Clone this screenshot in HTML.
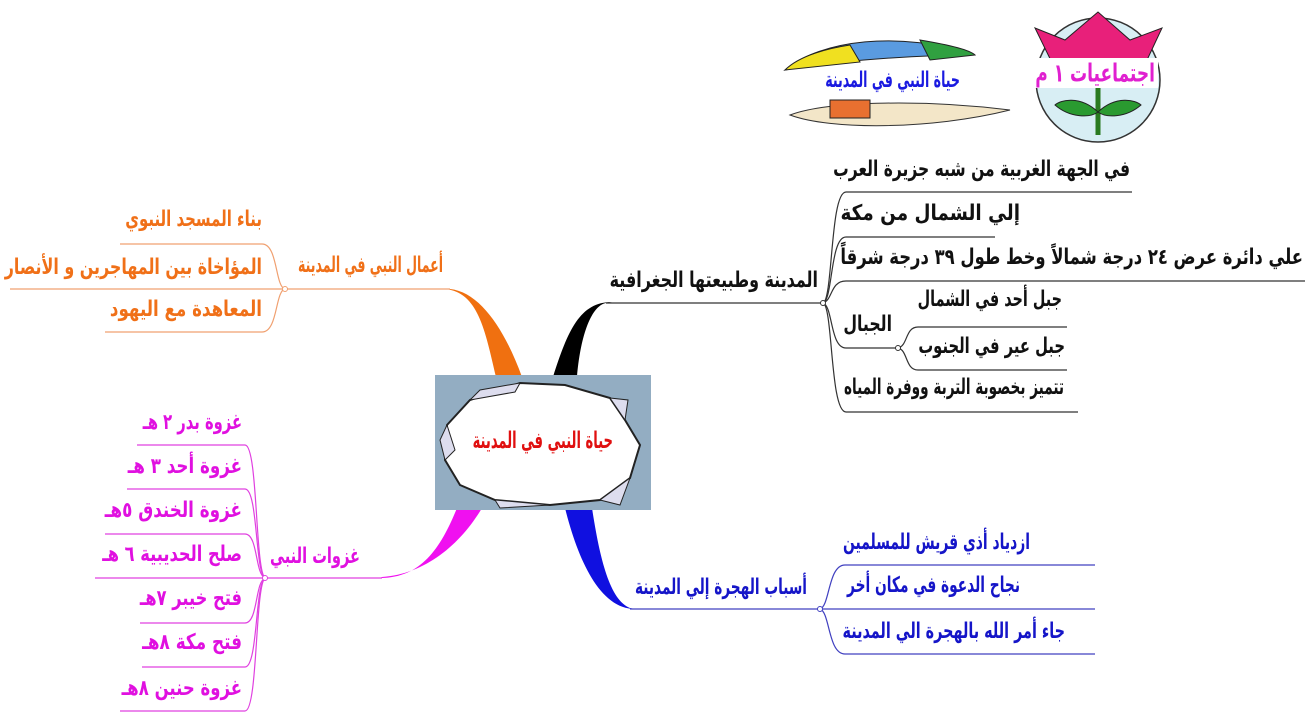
<!DOCTYPE html>
<html><head><meta charset="utf-8"><style>
body{margin:0;background:#fff;width:1313px;height:721px;overflow:hidden;position:relative;font-family:"DejaVu Sans","Liberation Sans",sans-serif;}
.t{position:absolute;direction:rtl;white-space:nowrap;font-weight:bold;font-size:18px;line-height:22px;transform-origin:right center;transform:translateX(-100%);}
.k{color:#111}.o{color:#f07018}.m{color:#e010e0}.b{color:#1515c8}
svg{position:absolute;left:0;top:0}
</style></head><body>
<svg width="1313" height="721" viewBox="0 0 1313 721">
<path d="M553,377 C568,330 580,302 612,302 L606,303 C590,306 580,340 577,377 Z" fill="#000"/>
<path d="M496,377 C485,330 478,292 445,289 L450,289 C480,292 505,330 522,377 Z" fill="#f07010"/>
<path d="M457,508 C440,550 420,578 380,578 L382,577 C425,574 460,545 482,508 Z" fill="#f010f0"/>
<path d="M565,508 C578,560 600,609 635,609 L630,608 C610,600 600,560 592,508 Z" fill="#1010e0"/>
<g fill="none" stroke="#333" stroke-width="1.2">
<path d="M606,303 L823,303"/>
<path d="M823,303 C833,300 830,192 846,192 L1132,192"/>
<path d="M823,303 C833,300 830,237 846,237 L995,237"/>
<path d="M823,303 C833,300 830,281 846,281 L1305,281"/>
<path d="M823,303 C833,306 830,348 846,348 L898,348"/>
<path d="M823,303 C833,306 830,412 846,412 L1078,412"/>
<path d="M898,348 C908,346 905,327 918,327 L1067,327"/>
<path d="M898,348 C908,350 905,370 918,370 L1067,370"/>
</g>
<circle cx="823" cy="303" r="2.5" fill="#fff" stroke="#333"/>
<circle cx="898" cy="348" r="2.5" fill="#fff" stroke="#333"/>
<g fill="none" stroke="#f0a070" stroke-width="1.2">
<path d="M450,289 L285,289"/>
<path d="M285,289 C275,287 278,244 262,244 L120,244"/>
<path d="M285,289 L10,289"/>
<path d="M285,289 C275,291 278,332 262,332 L105,332"/>
</g>
<circle cx="285" cy="289" r="2.5" fill="#fff" stroke="#f0a070"/>
<g fill="none" stroke="#e040e0" stroke-width="1.2">
<path d="M382,578 L265,578"/>
<path d="M265,578 C255,570 258,445 245,445 L137,445"/>
<path d="M265,578 C255,572 258,489 245,489 L127,489"/>
<path d="M265,578 C255,574 258,534 245,534 L105,534"/>
<path d="M265,578 L95,578"/>
<path d="M265,578 C255,582 258,623 245,623 L140,623"/>
<path d="M265,578 C255,584 258,667 245,667 L142,667"/>
<path d="M265,578 C255,586 258,711 245,711 L120,711"/>
</g>
<circle cx="265" cy="578" r="2.5" fill="#fff" stroke="#e040e0"/>
<g fill="none" stroke="#4040c0" stroke-width="1.2">
<path d="M630,609 L820,609"/>
<path d="M820,609 C830,606 828,565 845,565 L1095,565"/>
<path d="M820,609 L1095,609"/>
<path d="M820,609 C830,612 828,654 845,654 L1095,654"/>
</g>
<circle cx="820" cy="609" r="2.5" fill="#fff" stroke="#4040c0"/>
<rect x="435" y="375" width="216" height="135" fill="#93adc2"/>
<polygon points="470,400 520,383 565,385 610,398 625,420 640,445 630,478 600,500 550,505 495,500 460,485 445,460 447,425" fill="#fff" stroke="#222" stroke-width="2"/>
<polygon points="470,400 480,390 520,383 515,392" fill="#dde" stroke="#222"/>
<polygon points="610,398 628,400 625,420" fill="#dde" stroke="#222"/>
<polygon points="447,425 440,440 445,460 455,450" fill="#dde" stroke="#222"/>
<polygon points="600,500 620,505 630,478" fill="#dde" stroke="#222"/>
<polygon points="495,500 500,508 550,505" fill="#dde" stroke="#222"/>
<path d="M785,70 C820,40 900,30 975,55 C920,55 840,60 785,70Z" fill="#5a9be0" stroke="#222"/>
<path d="M785,70 C800,55 830,48 850,45 L860,62 Z" fill="#f0e020" stroke="#222"/>
<path d="M920,40 C950,45 970,50 975,55 L930,60 Z" fill="#30a040" stroke="#222"/>
<path d="M790,115 C830,100 930,100 1010,110 C930,130 830,130 790,115Z" fill="#f3e6c8" stroke="#333"/>
<rect x="830" y="100" width="40" height="18" fill="#e87030" stroke="#222"/>
<rect x="825" y="68" width="135" height="30" fill="#fff"/>
<circle cx="1098" cy="80" r="62" fill="#d8eef4" stroke="#333" stroke-width="1.5"/>
<path d="M1035,28 L1065,40 L1098,12 L1130,40 L1162,28 L1140,75 L1058,75 Z" fill="#e8207a" stroke="#222"/>
<path d="M1098,85 L1098,135" stroke="#2a7a20" stroke-width="5"/>
<path d="M1098,112 C1080,95 1060,100 1055,105 C1070,118 1090,118 1098,112Z M1098,112 C1116,95 1136,100 1141,105 C1126,118 1106,118 1098,112Z" fill="#2a9a30" stroke="#222"/>
<rect x="1030" y="58" width="128" height="30" fill="#fff"/>
</svg>
<div class="t" style="left:960px;top:70px;color:#1a1ae0;--w:135">حياة النبي في المدينة</div>
<div class="t" style="left:1155px;top:62px;color:#e020d0;font-size:21px;--w:120">اجتماعيات ١ م</div>
<div class="t" style="left:613px;top:430px;color:#e01010;font-size:19px;--w:140">حياة النبي في المدينة</div>

<div class="t k" style="left:818px;top:270px;--w:208">المدينة وطبيعتها الجغرافية</div>
<div class="t k" style="left:1130px;top:159px;--w:297">في الجهة الغربية من شبه جزيرة العرب</div>
<div class="t k" style="left:1020px;top:203px;--w:180">إلي الشمال من مكة</div>
<div class="t k" style="left:1303px;top:247px;--w:463">علي دائرة عرض ٢٤ درجة شمالاً وخط طول ٣٩ درجة شرقاً</div>
<div class="t k" style="left:892px;top:314px;--w:49">الجبال</div>
<div class="t k" style="left:1062px;top:289px;--w:144">جبل أحد في الشمال</div>
<div class="t k" style="left:1065px;top:336px;--w:147">جبل عير في الجنوب</div>
<div class="t k" style="left:1064px;top:377px;--w:220">تتميز بخصوبة التربة ووفرة المياه</div>

<div class="t o" style="left:443px;top:255px;--w:145">أعمال النبي في المدينة</div>
<div class="t o" style="left:262px;top:209px;--w:137">بناء المسجد النبوي</div>
<div class="t o" style="left:262px;top:257px;--w:257">المؤاخاة بين المهاجرين و الأنصار</div>
<div class="t o" style="left:262px;top:299px;--w:152">المعاهدة مع اليهود</div>

<div class="t m" style="left:360px;top:546px;--w:90">غزوات النبي</div>
<div class="t m" style="left:242px;top:412px;--w:99">غزوة بدر ٢ هـ</div>
<div class="t m" style="left:242px;top:456px;--w:114">غزوة أحد ٣ هـ</div>
<div class="t m" style="left:242px;top:500px;--w:137">غزوة الخندق ٥هـ</div>
<div class="t m" style="left:242px;top:544px;--w:140">صلح الحديبية ٦ هـ</div>
<div class="t m" style="left:242px;top:588px;--w:102">فتح خيبر ٧هـ</div>
<div class="t m" style="left:242px;top:632px;--w:100">فتح مكة ٨هـ</div>
<div class="t m" style="left:242px;top:678px;--w:120">غزوة حنين ٨هـ</div>

<div class="t b" style="left:807px;top:577px;--w:172">أسباب الهجرة إلي المدينة</div>
<div class="t b" style="left:1030px;top:532px;--w:187">ازدياد أذي قريش للمسلمين</div>
<div class="t b" style="left:1020px;top:575px;--w:173">نجاح الدعوة في مكان أخر</div>
<div class="t b" style="left:1065px;top:621px;--w:222">جاء أمر الله بالهجرة الي المدينة</div>
<script>
document.querySelectorAll('.t').forEach(function(e){
  var w=parseFloat(e.style.getPropertyValue('--w'));
  var ow=e.offsetWidth;
  if(w&&ow){e.style.transform='translateX(-100%) scale('+(w/ow).toFixed(3)+',1.2)';}
});
</script>
</body></html>
